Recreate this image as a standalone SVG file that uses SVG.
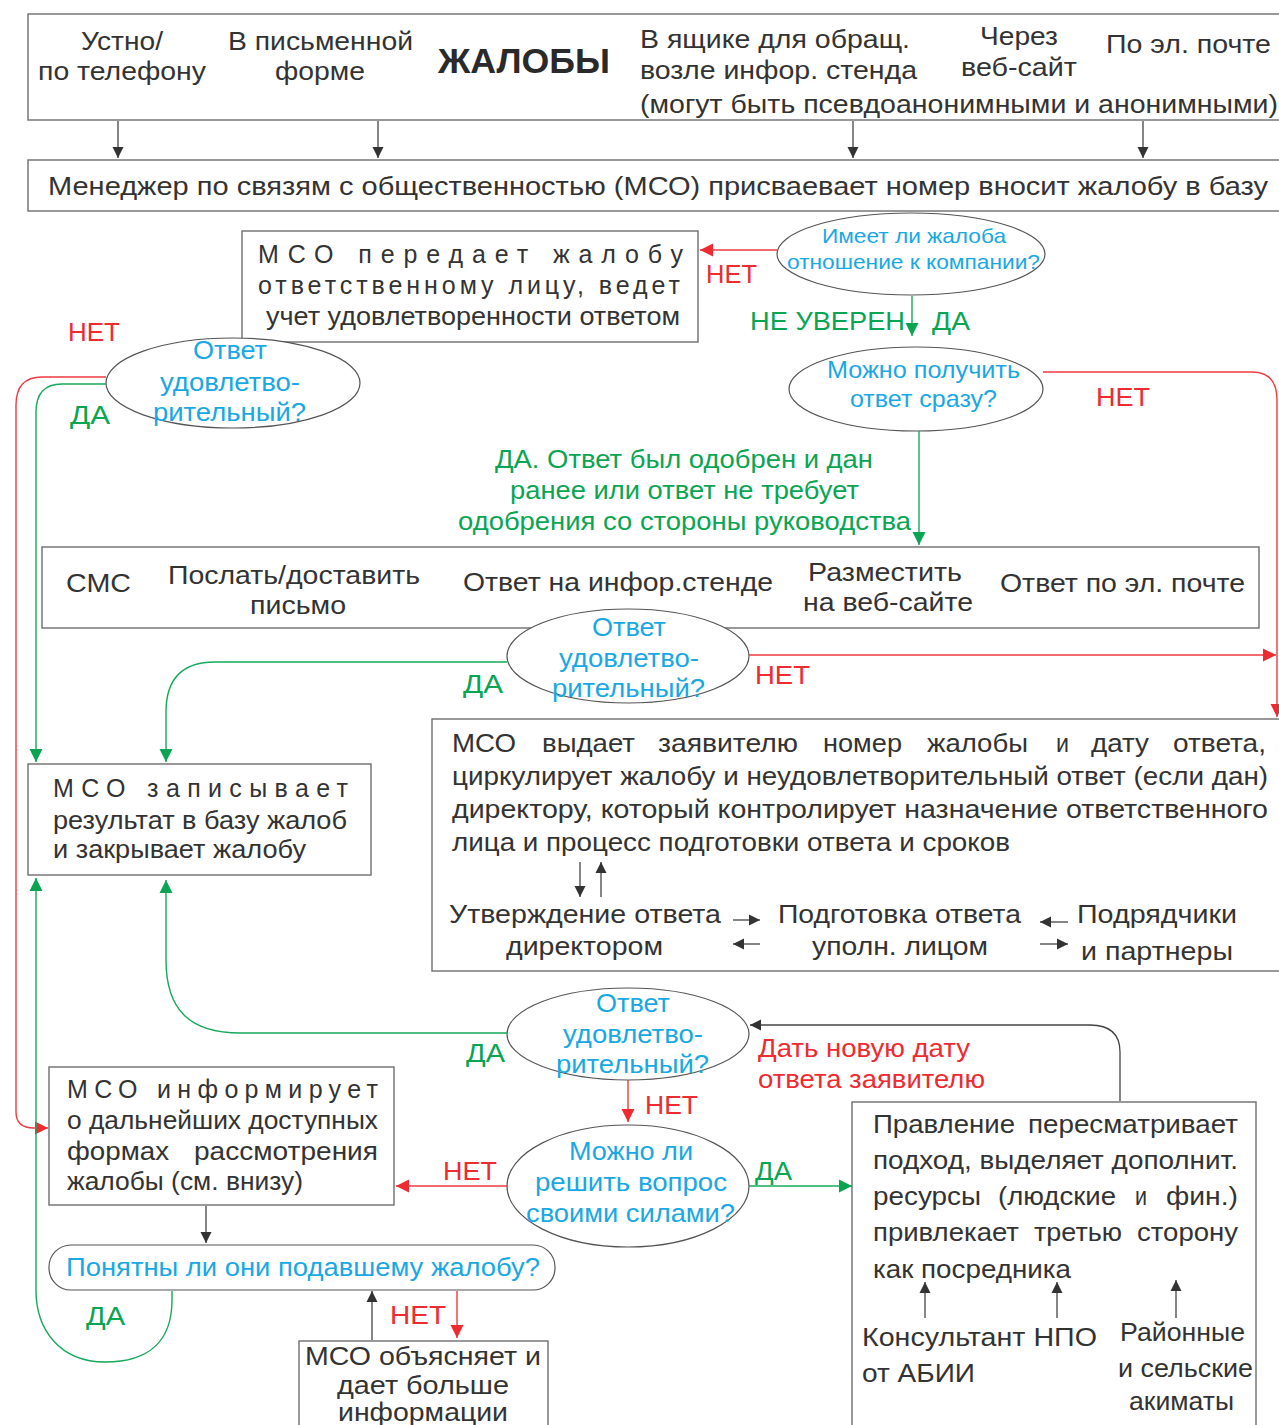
<svg xmlns="http://www.w3.org/2000/svg" width="1279" height="1425" viewBox="0 0 1279 1425">
<style>
text{font-family:"Liberation Sans",Arial,sans-serif;font-size:26px;fill:#333}
.c{fill:#19a8e3}
.g{fill:#0aa552}
.r{fill:#ee2b30}
.b{font-weight:bold;font-size:35px;fill:#2a2a2a}
.box{fill:#fff;stroke:#6e6e6e;stroke-width:1.4}
.ell{fill:#fff;stroke:#555;stroke-width:1.2}
.k{fill:none;stroke:#444;stroke-width:1.3}
.gl{fill:none;stroke:#17a85a;stroke-width:1.4}
.rl{fill:none;stroke:#ee3a40;stroke-width:1.4}
.s25{font-size:25px}
.s24{font-size:24px}
.s21{font-size:21px}
</style>
<defs>
<marker id="ak" viewBox="0 0 10 10" refX="10" refY="5" markerWidth="11" markerHeight="15" markerUnits="userSpaceOnUse" orient="auto"><path d="M0,0 L10,5 L0,10 z" fill="#333"/></marker>
<marker id="ag" viewBox="0 0 10 10" refX="10" refY="5" markerWidth="13" markerHeight="15" markerUnits="userSpaceOnUse" orient="auto"><path d="M0,0 L10,5 L0,10 z" fill="#0aa552"/></marker>
<marker id="ar" viewBox="0 0 10 10" refX="10" refY="5" markerWidth="13" markerHeight="15" markerUnits="userSpaceOnUse" orient="auto"><path d="M0,0 L10,5 L0,10 z" fill="#ee2b30"/></marker>
</defs>

<g id="complaints">
<rect class="box" x="28" y="14" width="1270" height="106"/>
<text x="81" y="50" textLength="82" lengthAdjust="spacingAndGlyphs">Устно/</text>
<text x="38" y="80" textLength="168" lengthAdjust="spacingAndGlyphs">по телефону</text>
<text x="228" y="50" textLength="185" lengthAdjust="spacingAndGlyphs">В письменной</text>
<text x="275" y="80" textLength="90" lengthAdjust="spacingAndGlyphs">форме</text>
<text class="b" x="438" y="73" textLength="172" lengthAdjust="spacingAndGlyphs">ЖАЛОБЫ</text>
<text x="640" y="48" textLength="270" lengthAdjust="spacingAndGlyphs">В ящике для обращ.</text>
<text x="640" y="79" textLength="277" lengthAdjust="spacingAndGlyphs">возле инфор. стенда</text>
<text x="640" y="113" textLength="638" lengthAdjust="spacingAndGlyphs">(могут быть псевдоанонимными и анонимными)</text>
<text x="980" y="45" textLength="78" lengthAdjust="spacingAndGlyphs">Через</text>
<text x="961" y="76" textLength="116" lengthAdjust="spacingAndGlyphs">веб-сайт</text>
<text x="1106" y="53" textLength="165" lengthAdjust="spacingAndGlyphs">По эл. почте</text>
</g>

<g id="manager">
<rect class="box" x="28" y="160" width="1270" height="51"/>
<text x="48" y="195" textLength="1220" lengthAdjust="spacingAndGlyphs">Менеджер по связям с общественностью (МСО) присваевает номер  вносит жалобу в базу</text>
</g>

<g id="q-company">
<ellipse class="ell" cx="911" cy="254" rx="134" ry="41"/>
<text class="c s21" x="822" y="243" textLength="184" lengthAdjust="spacingAndGlyphs">Имеет ли жалоба</text>
<text class="c s21" x="787" y="269" textLength="253" lengthAdjust="spacingAndGlyphs">отношение к компании?</text>
</g>

<g id="transfer">
<rect class="box" x="242" y="231" width="456" height="111"/>
<text class="s25" x="258" y="263" textLength="425">МСО передает жалобу</text>
<text class="s25" x="258" y="294" textLength="422">ответственному лицу, ведет</text>
<text class="s25" x="266" y="325" textLength="414" lengthAdjust="spacingAndGlyphs">учет удовлетворенности ответом</text>
</g>

<g id="q-sat1">
<ellipse class="ell" cx="233" cy="383" rx="127" ry="45"/>
<text class="c s25" x="193" y="359" textLength="74" lengthAdjust="spacingAndGlyphs">Ответ</text>
<text class="c s25" x="160" y="391" textLength="140" lengthAdjust="spacingAndGlyphs">удовлетво-</text>
<text class="c s25" x="153" y="421" textLength="153" lengthAdjust="spacingAndGlyphs">рительный?</text>
</g>

<g id="q-immediate">
<ellipse class="ell" cx="916" cy="389" rx="127" ry="42"/>
<text class="c s24" x="827" y="378" textLength="193" lengthAdjust="spacingAndGlyphs">Можно получить</text>
<text class="c s24" x="850" y="407" textLength="147" lengthAdjust="spacingAndGlyphs">ответ сразу?</text>
</g>

<g id="channels">
<rect class="box" x="42" y="547" width="1217" height="81"/>
<text x="66" y="592" textLength="65" lengthAdjust="spacingAndGlyphs">СМС</text>
<text x="168" y="584" textLength="252" lengthAdjust="spacingAndGlyphs">Послать/доставить</text>
<text x="250" y="614" textLength="96" lengthAdjust="spacingAndGlyphs">письмо</text>
<text x="463" y="591" textLength="310" lengthAdjust="spacingAndGlyphs">Ответ на инфор.стенде</text>
<text x="808" y="581" textLength="154" lengthAdjust="spacingAndGlyphs">Разместить</text>
<text x="803" y="611" textLength="170" lengthAdjust="spacingAndGlyphs">на веб-сайте</text>
<text x="1000" y="592" textLength="245" lengthAdjust="spacingAndGlyphs">Ответ по эл. почте</text>
</g>

<g id="q-sat2">
<ellipse class="ell" cx="628" cy="656" rx="121" ry="47"/>
<text class="c s25" x="592" y="636" textLength="74" lengthAdjust="spacingAndGlyphs">Ответ</text>
<text class="c s25" x="559" y="667" textLength="140" lengthAdjust="spacingAndGlyphs">удовлетво-</text>
<text class="c s25" x="552" y="697" textLength="153" lengthAdjust="spacingAndGlyphs">рительный?</text>
</g>

<g id="record">
<rect class="box" x="28" y="764" width="343" height="111"/>
<text class="s25" x="53" y="797" textLength="295">МСО записывает</text>
<text class="s25" x="53" y="829" textLength="294" lengthAdjust="spacingAndGlyphs">результат в базу жалоб</text>
<text class="s25" x="53" y="858" textLength="253" lengthAdjust="spacingAndGlyphs">и закрывает жалобу</text>
</g>

<g id="issue">
<rect class="box" x="432" y="719" width="866" height="252"/>
<text class="s25" x="452" y="752" textLength="64" lengthAdjust="spacingAndGlyphs">МСО</text>
<text class="s25" x="542" y="752" textLength="93" lengthAdjust="spacingAndGlyphs">выдает</text>
<text class="s25" x="658" y="752" textLength="140" lengthAdjust="spacingAndGlyphs">заявителю</text>
<text class="s25" x="823" y="752" textLength="79" lengthAdjust="spacingAndGlyphs">номер</text>
<text class="s25" x="927" y="752" textLength="101" lengthAdjust="spacingAndGlyphs">жалобы</text>
<text class="s25" x="1056" y="752" textLength="13" lengthAdjust="spacingAndGlyphs">и</text>
<text class="s25" x="1091" y="752" textLength="58" lengthAdjust="spacingAndGlyphs">дату</text>
<text class="s25" x="1173" y="752" textLength="93" lengthAdjust="spacingAndGlyphs">ответа,</text>
<text class="s25" x="452" y="785" textLength="816" lengthAdjust="spacingAndGlyphs">циркулирует жалобу и неудовлетворительный ответ (если дан)</text>
<text class="s25" x="452" y="818" textLength="816" lengthAdjust="spacingAndGlyphs">директору, который контролирует назначение ответственного</text>
<text class="s25" x="452" y="851" textLength="558" lengthAdjust="spacingAndGlyphs">лица и процесс подготовки ответа и сроков</text>
<text class="s25" x="449" y="923" textLength="272" lengthAdjust="spacingAndGlyphs">Утверждение ответа</text>
<text class="s25" x="506" y="955" textLength="157" lengthAdjust="spacingAndGlyphs">директором</text>
<text class="s25" x="778" y="923" textLength="243" lengthAdjust="spacingAndGlyphs">Подготовка ответа</text>
<text class="s25" x="812" y="955" textLength="176" lengthAdjust="spacingAndGlyphs">уполн. лицом</text>
<text class="s25" x="1077" y="923" textLength="160" lengthAdjust="spacingAndGlyphs">Подрядчики</text>
<text class="s25" x="1081" y="960" textLength="152" lengthAdjust="spacingAndGlyphs">и партнеры</text>
</g>

<g id="q-sat3">
<ellipse class="ell" cx="628" cy="1034" rx="121" ry="46"/>
<text class="c s25" x="596" y="1012" textLength="74" lengthAdjust="spacingAndGlyphs">Ответ</text>
<text class="c s25" x="563" y="1043" textLength="140" lengthAdjust="spacingAndGlyphs">удовлетво-</text>
<text class="c s25" x="556" y="1073" textLength="153" lengthAdjust="spacingAndGlyphs">рительный?</text>
</g>

<g id="q-self">
<ellipse class="ell" cx="628" cy="1186" rx="121" ry="61"/>
<text class="c s25" x="569" y="1160" textLength="124" lengthAdjust="spacingAndGlyphs">Можно ли</text>
<text class="c s25" x="535" y="1191" textLength="192" lengthAdjust="spacingAndGlyphs">решить вопрос</text>
<text class="c s25" x="526" y="1222" textLength="209" lengthAdjust="spacingAndGlyphs">своими силами?</text>
</g>

<g id="inform">
<rect class="box" x="49" y="1067" width="345" height="138"/>
<text class="s25" x="67" y="1098" textLength="311">МСО информирует</text>
<text class="s25" x="67" y="1129" textLength="311" lengthAdjust="spacingAndGlyphs">о дальнейших доступных</text>
<text class="s25" x="67" y="1160" textLength="102" lengthAdjust="spacingAndGlyphs">формах</text>
<text class="s25" x="194" y="1160" textLength="184" lengthAdjust="spacingAndGlyphs">рассмотрения</text>
<text class="s25" x="67" y="1190" textLength="236" lengthAdjust="spacingAndGlyphs">жалобы (см. внизу)</text>
</g>

<g id="q-clear">
<rect class="ell" x="49" y="1245" width="506" height="45" rx="22" ry="22"/>
<text class="c" x="66" y="1276" textLength="474" lengthAdjust="spacingAndGlyphs">Понятны ли они подавшему жалобу?</text>
</g>

<g id="explain">
<rect class="box" x="299" y="1341" width="249" height="100"/>
<text x="305" y="1365" textLength="236" lengthAdjust="spacingAndGlyphs">МСО объясняет и</text>
<text x="337" y="1394" textLength="172" lengthAdjust="spacingAndGlyphs">дает больше</text>
<text x="338" y="1421" textLength="170" lengthAdjust="spacingAndGlyphs">информации</text>
</g>

<g id="board">
<rect class="box" x="852" y="1102" width="404" height="340"/>
<text class="s25" x="873" y="1133" textLength="142" lengthAdjust="spacingAndGlyphs">Правление</text>
<text class="s25" x="1028" y="1133" textLength="210" lengthAdjust="spacingAndGlyphs">пересматривает</text>
<text class="s25" x="873" y="1169" textLength="365" lengthAdjust="spacingAndGlyphs">подход, выделяет дополнит.</text>
<text class="s25" x="873" y="1205" textLength="108" lengthAdjust="spacingAndGlyphs">ресурсы</text>
<text class="s25" x="998" y="1205" textLength="118" lengthAdjust="spacingAndGlyphs">(людские</text>
<text class="s25" x="1135" y="1205" textLength="12" lengthAdjust="spacingAndGlyphs">и</text>
<text class="s25" x="1166" y="1205" textLength="72" lengthAdjust="spacingAndGlyphs">фин.)</text>
<text class="s25" x="873" y="1241" textLength="146" lengthAdjust="spacingAndGlyphs">привлекает</text>
<text class="s25" x="1034" y="1241" textLength="88" lengthAdjust="spacingAndGlyphs">третью</text>
<text class="s25" x="1137" y="1241" textLength="101" lengthAdjust="spacingAndGlyphs">сторону</text>
<text class="s25" x="873" y="1278" textLength="198" lengthAdjust="spacingAndGlyphs">как посредника</text>
<text class="s25" x="862" y="1346" textLength="235" lengthAdjust="spacingAndGlyphs">Консультант НПО</text>
<text class="s25" x="862" y="1382" textLength="113" lengthAdjust="spacingAndGlyphs">от АБИИ</text>
<text class="s25" x="1120" y="1341" textLength="125" lengthAdjust="spacingAndGlyphs">Районные</text>
<text class="s25" x="1118" y="1377" textLength="135" lengthAdjust="spacingAndGlyphs">и сельские</text>
<text class="s25" x="1129" y="1410" textLength="105" lengthAdjust="spacingAndGlyphs">акиматы</text>
</g>

<g id="connectors">
<path class="k" d="M118,121 V158" marker-end="url(#ak)"/>
<path class="k" d="M378,121 V158" marker-end="url(#ak)"/>
<path class="k" d="M853,121 V158" marker-end="url(#ak)"/>
<path class="k" d="M1143,121 V158" marker-end="url(#ak)"/>
<path class="rl" d="M778,250 H700" marker-end="url(#ar)"/>
<path class="gl" d="M912,296 V336" marker-end="url(#ag)"/>
<path class="rl" d="M1043,372 H1252 Q1277,372 1277,400 V717" marker-end="url(#ar)"/>
<path class="gl" d="M919,431 V545" marker-end="url(#ag)"/>
<path class="rl" d="M749,655 H1276" marker-end="url(#ar)"/>
<path class="gl" d="M507,662 H215 Q166,662 166,712 V762" marker-end="url(#ag)"/>
<path class="rl" d="M106,377 H42 Q16,377 16,405 V1112 Q16,1128 34,1128 H48" marker-end="url(#ar)"/>
<path class="gl" d="M106,384 H62 Q36,384 36,412 V762" marker-end="url(#ag)"/>
<path class="gl" d="M507,1033 H240 C190,1033 166,1010 166,960 V880" marker-end="url(#ag)"/>
<path class="gl" d="M172,1291 V1300 C172,1340 150,1362 105,1362 C60,1362 36,1330 36,1290 V878" marker-end="url(#ag)"/>
<path class="k" d="M1120,1101 V1052 Q1120,1025 1090,1025 H750" marker-end="url(#ak)"/>
<path class="rl" d="M628,1080 V1122" marker-end="url(#ar)"/>
<path class="rl" d="M507,1186 H396" marker-end="url(#ar)"/>
<path class="gl" d="M749,1186 H852" marker-end="url(#ag)"/>
<path class="k" d="M206,1206 V1243" marker-end="url(#ak)"/>
<path class="k" d="M372,1340 V1291" marker-end="url(#ak)"/>
<path class="rl" d="M457,1291 V1338" marker-end="url(#ar)"/>
<path class="k" d="M580,862 V897" marker-end="url(#ak)"/>
<path class="k" d="M601,897 V862" marker-end="url(#ak)"/>
<path class="k" d="M733,920 H760" marker-end="url(#ak)"/>
<path class="k" d="M760,944 H733" marker-end="url(#ak)"/>
<path class="k" d="M1068,922 H1040" marker-end="url(#ak)"/>
<path class="k" d="M1040,944 H1068" marker-end="url(#ak)"/>
<path class="k" d="M925,1318 V1282" marker-end="url(#ak)"/>
<path class="k" d="M1057,1318 V1282" marker-end="url(#ak)"/>
<path class="k" d="M1176,1318 V1280" marker-end="url(#ak)"/>
</g>

<g id="labels">
<text class="r s25" x="706" y="283" textLength="51" lengthAdjust="spacingAndGlyphs">НЕТ</text>
<text class="g" x="750" y="330" textLength="155" lengthAdjust="spacingAndGlyphs">НЕ УВЕРЕН</text>
<text class="g" x="932" y="330" textLength="38" lengthAdjust="spacingAndGlyphs">ДА</text>
<text class="r" x="1096" y="406" textLength="54" lengthAdjust="spacingAndGlyphs">НЕТ</text>
<text class="g s25" x="495" y="468" textLength="378" lengthAdjust="spacingAndGlyphs">ДА. Ответ был одобрен и дан</text>
<text class="g s25" x="510" y="499" textLength="349" lengthAdjust="spacingAndGlyphs">ранее или ответ не требует</text>
<text class="g s25" x="458" y="530" textLength="453" lengthAdjust="spacingAndGlyphs">одобрения со стороны руководства</text>
<text class="r s25" x="68" y="341" textLength="52" lengthAdjust="spacingAndGlyphs">НЕТ</text>
<text class="g" x="70" y="424" textLength="40" lengthAdjust="spacingAndGlyphs">ДА</text>
<text class="g" x="463" y="693" textLength="40" lengthAdjust="spacingAndGlyphs">ДА</text>
<text class="r" x="755" y="684" textLength="55" lengthAdjust="spacingAndGlyphs">НЕТ</text>
<text class="g" x="466" y="1062" textLength="39" lengthAdjust="spacingAndGlyphs">ДА</text>
<text class="r s25" x="758" y="1057" textLength="212" lengthAdjust="spacingAndGlyphs">Дать новую дату</text>
<text class="r s25" x="758" y="1088" textLength="227" lengthAdjust="spacingAndGlyphs">ответа заявителю</text>
<text class="r" x="645" y="1114" textLength="53" lengthAdjust="spacingAndGlyphs">НЕТ</text>
<text class="r" x="443" y="1180" textLength="54" lengthAdjust="spacingAndGlyphs">НЕТ</text>
<text class="g" x="755" y="1180" textLength="37" lengthAdjust="spacingAndGlyphs">ДА</text>
<text class="g" x="86" y="1325" textLength="39" lengthAdjust="spacingAndGlyphs">ДА</text>
<text class="r" x="390" y="1324" textLength="56" lengthAdjust="spacingAndGlyphs">НЕТ</text>
</g>
</svg>
